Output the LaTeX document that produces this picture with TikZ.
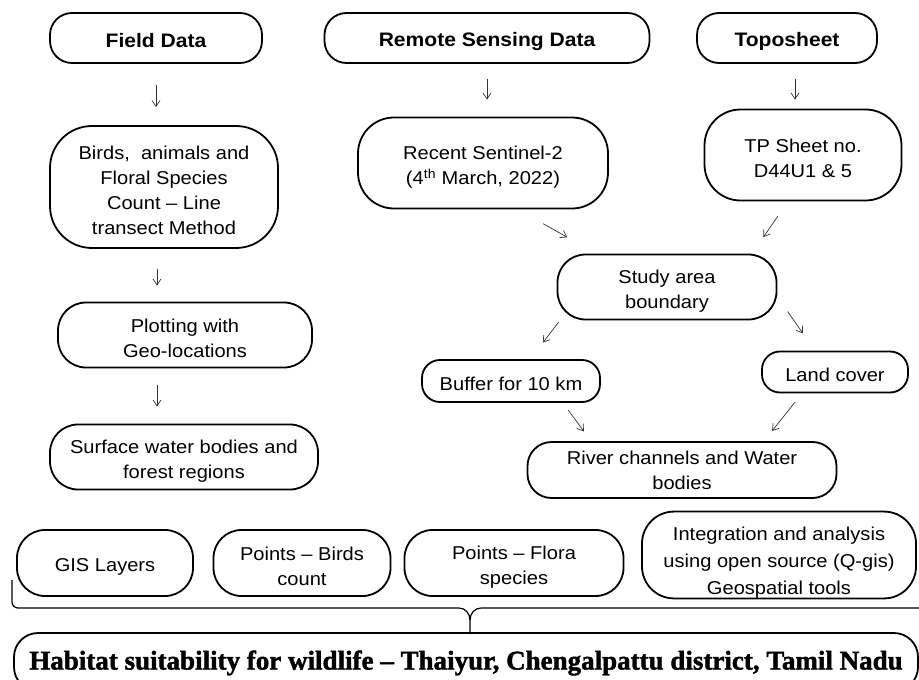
\documentclass[tikz,border=0pt]{standalone}
\usepackage{fontspec}
\usepackage{graphicx}
\setmainfont{Liberation Sans}[FakeStretch=1.08]
\newfontfamily\titlefont{Liberation Serif}[Ligatures=TeX,BoldFeatures={FakeBold=1.6}]
\usetikzlibrary{arrows.meta}
\newcommand{\bxtop}{\rule{0pt}{21pt}}
\newcommand{\bxbot}{\rule[-3pt]{0pt}{3pt}}
\newcommand{\lnpad}{\rule{0pt}{22pt}}

\begin{document}
\begin{tikzpicture}[x=1pt,y=-1pt]
	\tikzstyle{blk}=[draw=black,line width=1.8pt,rounded corners=20pt,align=center,inner sep=0pt,font=\fontsize{18.6}{25}\selectfont,execute at begin node=\bxtop,execute at end node=\bxbot]
	\tikzstyle{hdr}=[blk,minimum height=50pt,rounded corners=22pt,font=\fontsize{19.5}{25}\selectfont\bfseries]
	\tikzstyle{arr}=[-{Straight Barb[length=6pt,width=8pt]},line width=0.7pt,black!80]
	\useasboundingbox (0,0) rectangle (919,680);

	% sources
	\node[hdr,minimum width=212pt](field) at (156,38){Field Data};
	\node[hdr,minimum width=325pt](remote) at (487,38){Remote Sensing Data};
	\node[hdr,minimum width=180pt](topo) at (787,38){Toposheet};

	\node[blk,minimum width=228pt,minimum height=122pt,rounded corners=42pt](birds) at (164,187){\lnpad Birds,\ \ animals and\\Floral Species\\Count – Line\\transect Method};
	\node[blk,minimum width=250pt,minimum height=91pt,rounded corners=36pt](sentinel) at (483,163){\lnpad Recent Sentinel-2\\(4\textsuperscript{th} March, 2022)};
	\node[blk,minimum width=197pt,minimum height=91pt,rounded corners=36pt](tp) at (803,155){\lnpad TP Sheet no.\\D44U1 \& 5};

	\node[blk,minimum width=219pt,minimum height=65pt,rounded corners=28pt](study) at (667,287){\lnpad Study area\\boundary};
	\node[blk,minimum width=178pt,minimum height=42pt,rounded corners=18pt](buffer) at (511,381){Buffer for 10 km};
	\node[blk,minimum width=146pt,minimum height=41pt,rounded corners=18pt](land) at (835,372){Land cover};
	\node[blk,minimum width=309pt,minimum height=56pt,rounded corners=24pt](river) at (682,470){\rule{0pt}{16pt}River channels and Water\\bodies};

	\node[blk,minimum width=254pt,minimum height=65pt,rounded corners=28pt](plot) at (185,335){\lnpad Plotting with\\Geo-locations};
	\node[blk,minimum width=268pt,minimum height=65pt,rounded corners=28pt](surface) at (184,457){\lnpad Surface water bodies and\\forest regions};

	% outputs
	\node[blk,minimum width=176pt,minimum height=66pt,rounded corners=28pt](gis) at (105,563){GIS Layers};
	\node[blk,minimum width=177pt,minimum height=66pt,rounded corners=28pt](pbirds) at (302,563){\lnpad Points – Birds\\count};
	\node[blk,minimum width=219pt,minimum height=66pt,rounded corners=28pt](pflora) at (514,563){\lnpad Points – Flora\\species};
	\node[blk,minimum width=274pt,minimum height=84pt,rounded corners=32pt,font=\fontsize{18.6}{27}\selectfont](integ) at (779,555){\rule{0pt}{29pt}Integration and analysis\\using open source (Q-gis)\\Geospatial tools};

	\node[blk,minimum width=904pt,minimum height=58pt,rounded corners=24pt,font=\titlefont\bfseries\fontsize{27}{30}\selectfont](hab) at (466,662){Habitat suitability for wildlife – Thaiyur, Chengalpattu district, Tamil Nadu};

	% arrows
	\draw[arr,shorten <=21pt,shorten >=18pt] (field) -- (field |- birds.north);
	\draw[arr,shorten <=15pt,shorten >=17pt] (remote) -- (remote |- sentinel.north);
	\draw[arr,shorten <=15pt,shorten >=9pt] ([xshift=8pt]topo.south) -- ([xshift=-8pt]tp.north);
	\draw[arr,shorten <=29pt,shorten >=33pt] ([xshift=35pt]sentinel.south) -- ([xshift=-71pt]study.north);
	\draw[arr,shorten <=18pt,shorten >=20pt] ([xshift=-15pt]tp.south) -- ([xshift=85pt]study.north);
	\draw[arr,shorten <=2pt,shorten >=21pt] ([xshift=-107pt]study.south) -- ([xshift=19pt]buffer.north);
	\draw[arr,shorten <=30pt,shorten >=21pt] ([xshift=-7pt]study.east) -- ([xshift=-20pt]land.north);
	\draw[arr,shorten <=9pt,shorten >=12pt] ([xshift=52pt]buffer.south) -- ([xshift=-91pt]river.north);
	\draw[arr,shorten <=11pt,shorten >=13pt] ([xshift=-33pt]land.south) -- ([xshift=82pt]river.north);
	\draw[arr,shorten <=20pt,shorten >=16pt] ([xshift=-7pt]birds.south) -- ([xshift=-7pt]birds.south |- plot.north);
	\draw[arr,shorten <=17pt,shorten >=17pt] ([xshift=-28pt]plot.south) -- ([xshift=-28pt]plot.south |- surface.north);

	% brace
	\draw[line width=1.2pt] (12,580) -- (12,602) to[out=-90,in=180] (18,608) -- (459,608) to[out=0,in=90] (470,620) -- (470,634);
	\draw[line width=1.2pt] (470,620) to[out=90,in=180] (481,608) -- (925,608);
\end{tikzpicture}
\end{document}
